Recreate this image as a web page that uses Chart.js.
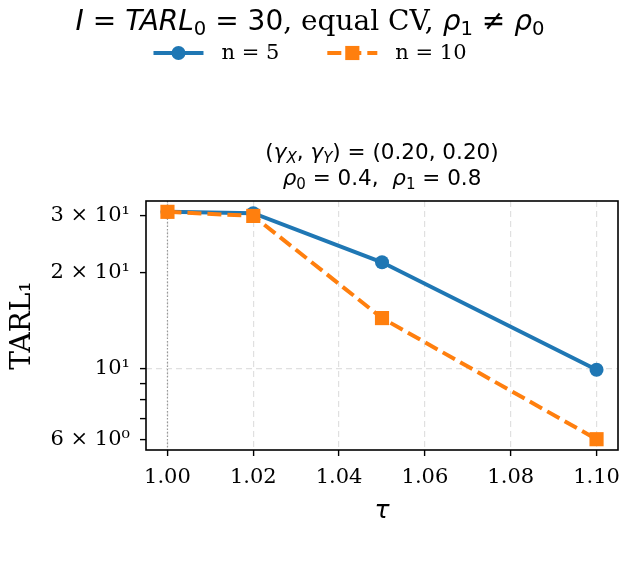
<!DOCTYPE html>
<html><head><meta charset="utf-8">
<script src="https://cdn.jsdelivr.net/npm/chart.js@4/dist/chart.umd.min.js"></script>
<style>html,body{margin:0;padding:0;background:#fff;}</style>
</head><body>
<canvas id="c" width="628" height="570"></canvas>
<script>
// ---- data ----
const tau = [1.00, 1.02, 1.05, 1.10];
const tarlN5 = [30.9, 30.6, 21.5, 9.93];
const tarlN10 = [30.9, 30.0, 14.4, 6.03];
const seriesLabels = ['n = 5', 'n = 10'];
const xTickValues = [1.00, 1.02, 1.04, 1.06, 1.08, 1.10];
const yTickValues = [6, 7, 8, 9, 10, 20, 30];
const yTickLabels = ['6 × 10⁰', '', '', '', '10¹', '2 × 10¹', '3 × 10¹'];
const yGridValues = [10];
const refTau = 1.00;

const BLUE = '#1f77b4', ORANGE = '#ff7f0e';
const SANS = '"DejaVu Sans"', SERIF = '"DejaVu Serif"';
const GRID = '#e0e0e0';

function pts(xs, ys) { return xs.map((x, i) => ({x: x, y: ys[i]})); }

function richWidth(ctx, segs) {
  let w = 0;
  for (const s of segs) { ctx.font = s.f; w += ctx.measureText(s.t).width; }
  return w;
}
function drawRich(ctx, segs, cx, baseline) {
  const w = richWidth(ctx, segs);
  let x = cx - w / 2;
  ctx.textAlign = 'left'; ctx.textBaseline = 'alphabetic'; ctx.fillStyle = '#000';
  for (const s of segs) {
    ctx.font = s.f;
    ctx.fillText(s.t, x, baseline + (s.dy || 0));
    x += ctx.measureText(s.t).width;
  }
}

const textPlugin = {
  id: 'texts',
  afterDraw(chart) {
    const ctx = chart.ctx, ca = chart.chartArea;
    ctx.save();
    // title
    const ts = 28, M = 'italic ' + ts + 'px ' + SANS, R = ts + 'px ' + SANS,
          S = (ts * 0.7) + 'px ' + SANS, SE = ts + 'px ' + SERIF, d = 5;
    drawRich(ctx, [
      {t: 'I', f: M}, {t: ' = ', f: R}, {t: 'TARL', f: M}, {t: '0', f: S, dy: d},
      {t: ' = 30', f: R}, {t: ', equal CV, ', f: SE},
      {t: 'ρ', f: M}, {t: '1', f: S, dy: d}, {t: ' ≠ ', f: R}, {t: 'ρ', f: M}, {t: '0', f: S, dy: d}
    ], 310, 30);
    // subtitle
    const ss = 21.5, m = 'italic ' + ss + 'px ' + SANS, r = ss + 'px ' + SANS,
          si = 'italic ' + (ss * 0.7) + 'px ' + SANS, su = (ss * 0.7) + 'px ' + SANS, e = 4;
    const cx = (ca.left + ca.right) / 2;
    drawRich(ctx, [
      {t: '(', f: r}, {t: 'γ', f: m}, {t: 'X', f: si, dy: e}, {t: ', ', f: r},
      {t: 'γ', f: m}, {t: 'Y', f: si, dy: e}, {t: ') = (0.20, 0.20)', f: r}
    ], cx, 159);
    drawRich(ctx, [
      {t: 'ρ', f: m}, {t: '0', f: su, dy: e}, {t: ' = 0.4,  ', f: r},
      {t: 'ρ', f: m}, {t: '1', f: su, dy: e}, {t: ' = 0.8', f: r}
    ], cx, 185);
    // legend
    const lf = '21px ' + SERIF, handle = 50, gapText = 18, gapItem = 48;
    ctx.font = lf;
    const items = chart.data.datasets.map(ds => ({ds, w: ctx.measureText(ds.label).width}));
    let total = 0;
    items.forEach((it, i) => { total += handle + gapText + it.w + (i ? gapItem : 0); });
    let x = 310 - total / 2;
    const ly = 53;
    items.forEach((it, i) => {
      const ds = it.ds;
      ctx.strokeStyle = ds.borderColor; ctx.lineWidth = ds.borderWidth;
      ctx.setLineDash(ds.borderDash || []);
      ctx.beginPath(); ctx.moveTo(x, ly); ctx.lineTo(x + handle, ly); ctx.stroke();
      ctx.setLineDash([]);
      ctx.fillStyle = ds.pointBackgroundColor;
      const mx = x + handle / 2;
      if (ds.pointStyle === 'rect') {
        const s = ds.pointRadius * Math.SQRT1_2;
        ctx.fillRect(mx - s, ly - s, 2 * s, 2 * s);
      } else {
        ctx.beginPath(); ctx.arc(mx, ly, ds.pointRadius, 0, Math.PI * 2); ctx.fill();
      }
      ctx.fillStyle = '#000'; ctx.font = lf; ctx.textAlign = 'left'; ctx.textBaseline = 'middle';
      ctx.fillText(ds.label, x + handle + gapText, ly + 1);
      x += handle + gapText + it.w + gapItem;
    });
    // frame
    ctx.strokeStyle = '#000'; ctx.lineWidth = 1.6; ctx.setLineDash([]);
    ctx.strokeRect(ca.left, ca.top, ca.right - ca.left, ca.bottom - ca.top);
    ctx.restore();
  },
  beforeDatasetsDraw(chart) {
    const ctx = chart.ctx, ca = chart.chartArea;
    const px = chart.scales.x.getPixelForValue(refTau);
    ctx.save();
    ctx.strokeStyle = '#999999'; ctx.lineWidth = 1.2; ctx.setLineDash([1.5, 2]);
    ctx.beginPath(); ctx.moveTo(px, ca.top); ctx.lineTo(px, ca.bottom); ctx.stroke();
    ctx.restore();
  }
};

new Chart(document.getElementById('c'), {
  type: 'line',
  data: {
    datasets: [
      {label: seriesLabels[0], data: pts(tau, tarlN5), borderColor: BLUE, backgroundColor: BLUE,
       pointBackgroundColor: BLUE, pointBorderColor: BLUE, borderWidth: 4, pointRadius: 7,
       pointBorderWidth: 0, pointStyle: 'circle', order: 1, clip: false},
      {label: seriesLabels[1], data: pts(tau, tarlN10), borderColor: ORANGE, backgroundColor: ORANGE,
       pointBackgroundColor: ORANGE, pointBorderColor: ORANGE, borderWidth: 4, pointRadius: 10,
       pointBorderWidth: 0, pointStyle: 'rect', borderDash: [14, 6], order: 0, clip: false}
    ]
  },
  options: {
    responsive: false, animation: false, devicePixelRatio: 1,
    layout: {padding: {top: 201, left: 0, right: 9, bottom: 0}},
    plugins: {legend: {display: false}, title: {display: false}, tooltip: {enabled: false}},
    elements: {line: {tension: 0}},
    scales: {
      x: {
        type: 'linear', min: 0.995, max: 1.105,
        afterBuildTicks: s => { s.ticks = xTickValues.map(v => ({value: v})); },
        afterFit: s => { s.height = 120; s.paddingLeft = 0; s.paddingRight = 0; },
        ticks: {callback: v => Number(v).toFixed(2), font: {family: 'DejaVu Serif', size: 21}, color: '#000', padding: 9, maxRotation: 0, autoSkip: false},
        grid: {color: GRID, lineWidth: 1.2, tickColor: '#000', tickLength: 6, tickWidth: 1.4},
        border: {display: false, dash: [6, 4]},
        title: {display: true, text: 'τ', font: {family: 'DejaVu Sans', size: 25, style: 'italic'}, color: '#000', padding: {top: 0, bottom: 44}}
      },
      y: {
        type: 'logarithmic', min: 5.58, max: 33.4,
        afterBuildTicks: s => { s.ticks = yTickValues.map(v => ({value: v})); },
        afterFit: s => { s.width = 146; s.paddingTop = 0; s.paddingBottom = 0; },
        ticks: {callback: function (v) { const i = yTickValues.indexOf(v); return i >= 0 ? yTickLabels[i] : ''; },
                font: {family: 'DejaVu Serif', size: 21}, color: '#000', padding: 10, autoSkip: false},
        grid: {color: c => (c.tick && yGridValues.indexOf(c.tick.value) >= 0) ? GRID : 'rgba(0,0,0,0)',
               lineWidth: 1.2, tickColor: '#000', tickLength: 6, tickWidth: 1.4},
        border: {display: false, dash: [6, 4]},
        title: {display: true, text: 'TARL₁', font: {family: 'DejaVu Serif', size: 28}, color: '#000', padding: {top: 6, bottom: 0}}
      }
    }
  },
  plugins: [textPlugin]
});
</script>
</body></html>
